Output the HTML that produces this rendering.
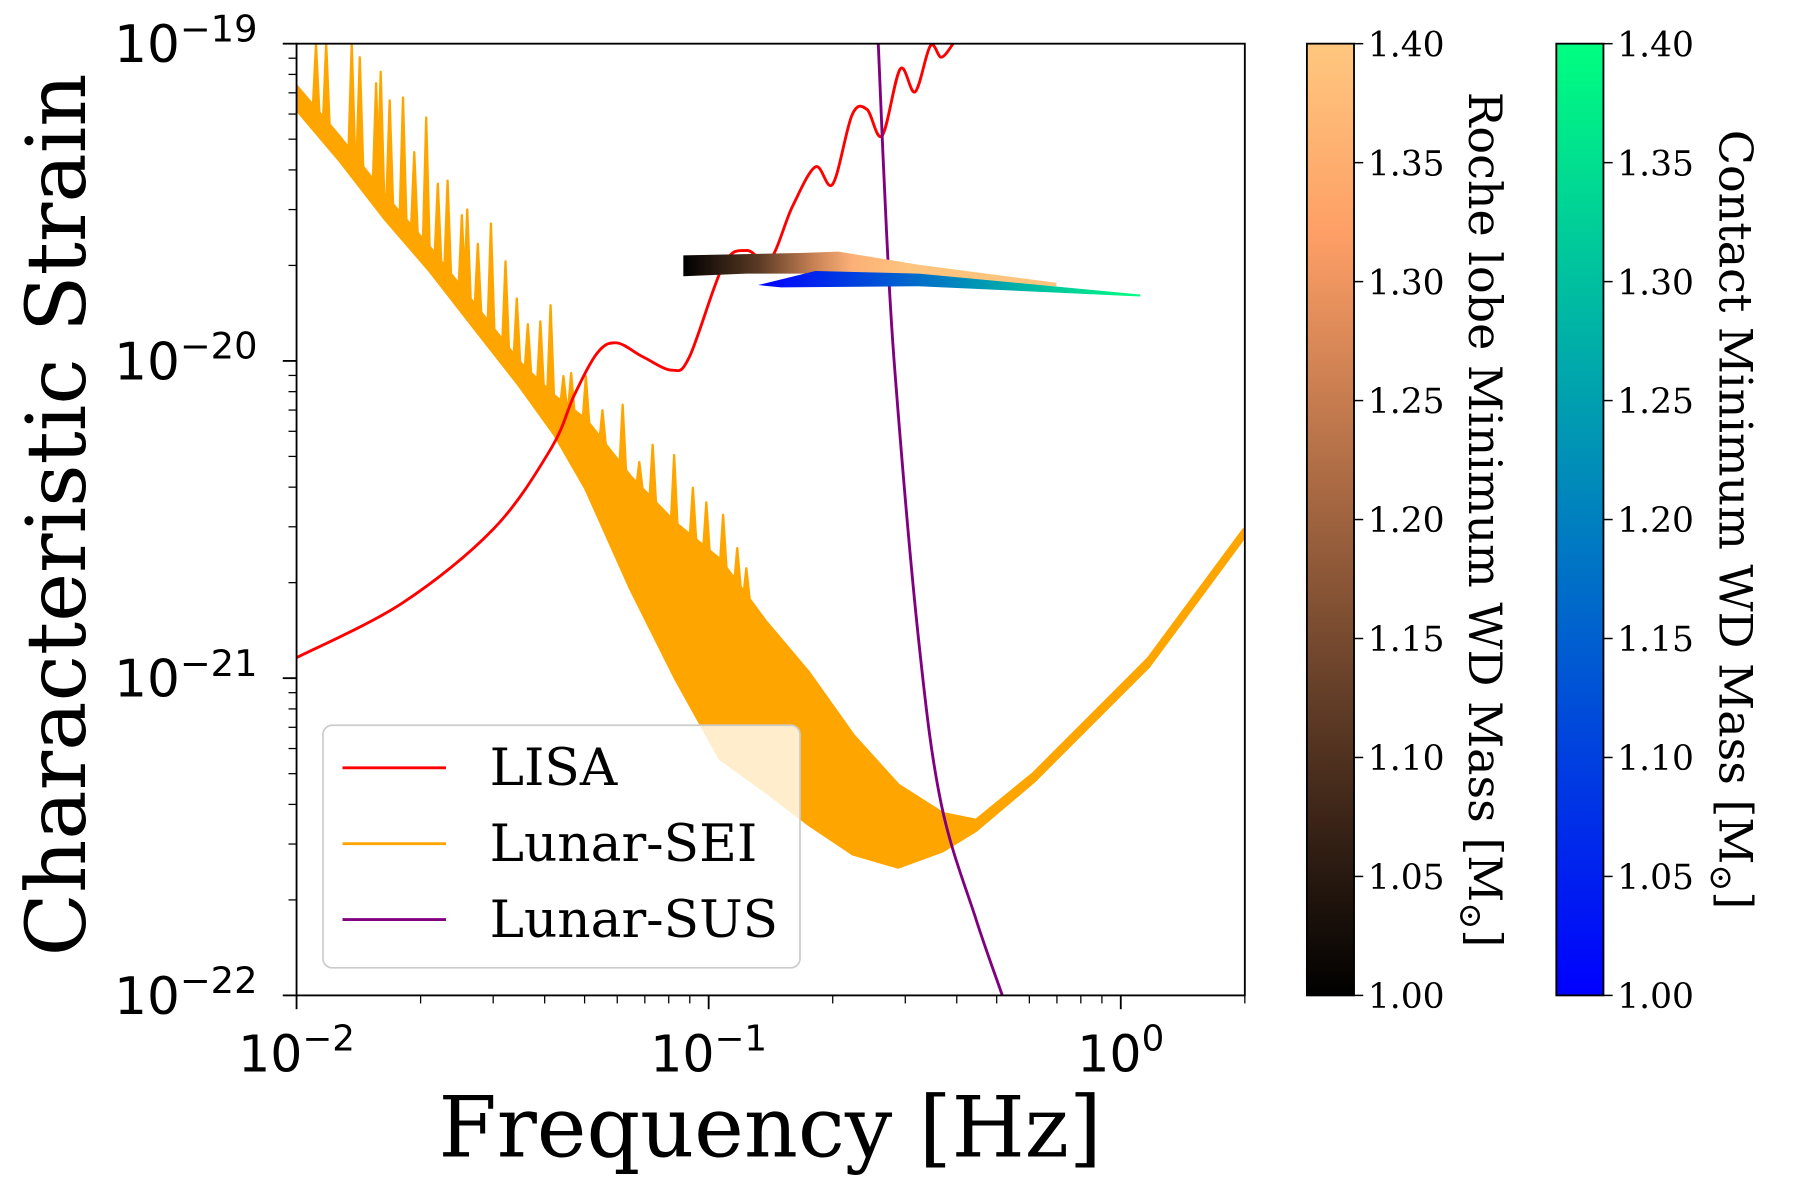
<!DOCTYPE html>
<html><head><meta charset="utf-8"><style>
html,body{margin:0;padding:0;background:#fff;width:1800px;height:1200px;overflow:hidden}
svg{display:block}
.sans{font-family:"DejaVu Sans","Liberation Sans",sans-serif}
.serif{font-family:"DejaVu Serif","Liberation Serif",serif}
</style></head><body>
<svg id="chart" width="1800" height="1200" viewBox="0 0 1566 1044" xmlns="http://www.w3.org/2000/svg">
<defs>
<linearGradient id="copperV" x1="0" y1="1" x2="0" y2="0">
<stop offset="0" stop-color="#000000"/><stop offset="0.5" stop-color="#9f633f"/><stop offset="0.8" stop-color="#fe9f66"/><stop offset="1" stop-color="#ffc77f"/>
</linearGradient>
<linearGradient id="winterV" x1="0" y1="1" x2="0" y2="0">
<stop offset="0" stop-color="#0000ff"/><stop offset="0.5" stop-color="#0080bf"/><stop offset="1" stop-color="#00ff80"/>
</linearGradient>
<linearGradient id="copperH" gradientUnits="userSpaceOnUse" x1="595" y1="0" x2="920" y2="0">
<stop offset="0" stop-color="#000000"/><stop offset="0.2" stop-color="#5a3a25"/><stop offset="0.35" stop-color="#c98355"/><stop offset="0.45" stop-color="#fbb077"/><stop offset="0.6" stop-color="#ffc47e"/><stop offset="1" stop-color="#fcc47e"/>
</linearGradient>
<linearGradient id="winterH" gradientUnits="userSpaceOnUse" x1="660" y1="0" x2="993" y2="0">
<stop offset="0" stop-color="#0000ff"/><stop offset="0.25" stop-color="#0040df"/><stop offset="0.55" stop-color="#0090b8"/><stop offset="0.8" stop-color="#00d098"/><stop offset="1" stop-color="#00ff80"/>
</linearGradient>
<clipPath id="axclip"><rect x="258" y="38" width="825" height="828"/></clipPath>
</defs>
<g id="plot" clip-path="url(#axclip)"></g>
<g id="fg"></g>
</svg>
<script>
// ---- data ----
const lisaFreq = [0.01,0.018,0.0301,0.0415,0.0472,0.0537,0.0598,0.0693,0.0815,0.0898,0.1087,0.1236,0.1406,0.1596,0.1816,0.2,0.2228,0.2421,0.2636,0.2917,0.317,0.345,0.367,0.392];
const lisaStrain = [1.16e-21,1.72e-21,2.96e-21,5.31e-21,7.8e-21,1.06e-20,1.14e-20,1.03e-20,9.35e-21,1.03e-20,2.01e-20,2.23e-20,2.08e-20,3.06e-20,4.09e-20,3.61e-20,5.96e-20,6.21e-20,5.13e-20,8.32e-20,7.05e-20,9.84e-20,9.06e-20,1e-19];
const susFreq = [0.258,0.270,0.284,0.324,0.367,0.446,0.516];
const susStrain = [1e-19,2.59e-20,8.75e-21,1.28e-21,3.99e-22,1.73e-22,1e-22];
const seiFreq = [0.01,0.01276,0.01639,0.02103,0.02702,0.0347,0.04233,0.05035,0.06465,0.08302,0.1066,0.1369,0.1747,0.2244,0.2882,0.3701,0.4457,0.6138,1.167,1.986];
const seiLow = [6.21e-20,4.27e-20,2.81e-20,1.93e-20,1.27e-20,8.39e-21,5.86e-21,3.96e-21,1.917e-21,1.0e-21,5.58e-22,4.42e-22,3.47e-22,2.79e-22,2.54e-22,2.86e-22,3.32e-22,4.72e-22,1.087e-21,2.77e-21];
const seiHigh = [7.34e-20,5.05e-20,3.32e-20,2.28e-20,1.505e-20,9.92e-21,7.72e-21,6.53e-21,4.31e-21,3.08e-21,2.36e-21,1.518e-21,1.042e-21,6.59e-22,4.60e-22,3.74e-22,3.56e-22,5.0e-22,1.152e-21,2.93e-21];
const seiSpikeFreq = [0.01115,0.0118,0.01361,0.01424,0.0156,0.016,0.01682,0.01812,0.0193,0.02063,0.02202,0.02326,0.02518,0.02595,0.02754,0.02962,0.03215,0.03422,0.03641,0.03905,0.04134,0.04444,0.04638,0.05034,0.05522,0.06186,0.06788,0.07311,0.08245,0.09154,0.09867,0.1084,0.1173,0.1234];
const seiSpikeStrain = [1e-19,1e-19,1e-19,9.06e-20,7.5e-20,8.16e-20,6.62e-20,6.76e-20,4.55e-20,5.85e-20,3.62e-20,3.70e-20,2.88e-20,3.0e-20,2.34e-20,2.71e-20,2.06e-20,1.573e-20,1.305e-20,1.332e-20,1.497e-20,8.96e-21,9.15e-21,8.96e-21,6.99e-21,7.28e-21,4.80e-21,5.44e-21,5.05e-21,3.98e-21,3.58e-21,3.27e-21,2.57e-21,2.22e-21];
const rocheFreq = [0.0868,0.1702,0.2064,0.3233,0.6982,0.6982,0.3233,0.2064,0.1236,0.0868];
const rocheStrain = [2.15e-20,2.19e-20,2.21e-20,2.01e-20,1.764e-20,1.72e-20,1.81e-20,1.886e-20,1.886e-20,1.85e-20];
const contactFreq = [0.1318,0.1816,0.3233,1.115,1.115,0.3233,0.1498,0.1318];
const contactStrain = [1.734e-20,1.92e-20,1.886e-20,1.62e-20,1.595e-20,1.72e-20,1.706e-20,1.734e-20];
const xTickExp = [-2,-1,0];
const yTickExp = [-19,-20,-21,-22];
const cbTicks = ["1.00","1.05","1.10","1.15","1.20","1.25","1.30","1.35","1.40"];

// ---- axes ----
const X0=258,X1=1083,Y0=38,Y1=866;
const xmin=-2,xmax=Math.log10(2),ymin=-22,ymax=-19;
function xs(f){return X0+(Math.log10(f)-xmin)/(xmax-xmin)*(X1-X0);}
function ys(h){return Y1-(Math.log10(h)-ymin)/(ymax-ymin)*(Y1-Y0);}
const NS="http://www.w3.org/2000/svg";
function mk(tag,attrs,parent){const e=document.createElementNS(NS,tag);for(const k in attrs)e.setAttribute(k,attrs[k]);parent.appendChild(e);return e;}
const plot=document.getElementById('plot'), fg=document.getElementById('fg');
function pts(fa,ha){return fa.map((f,i)=>xs(f).toFixed(1)+','+ys(ha[i]).toFixed(1)).join(' ');}
function smoothPath(fa,ha){
  const p=fa.map((f,i)=>[xs(f),ys(ha[i])]);
  let d='M'+p[0][0].toFixed(1)+','+p[0][1].toFixed(1);
  for(let i=0;i<p.length-1;i++){
    const p0=p[Math.max(0,i-1)],p1=p[i],p2=p[i+1],p3=p[Math.min(p.length-1,i+2)];
    const c1=[p1[0]+(p2[0]-p0[0])/6,p1[1]+(p2[1]-p0[1])/6];
    const c2=[p2[0]-(p3[0]-p1[0])/6,p2[1]-(p3[1]-p1[1])/6];
    d+=' C'+c1.map(v=>v.toFixed(1)).join(',')+' '+c2.map(v=>v.toFixed(1)).join(',')+' '+p2[0].toFixed(1)+','+p2[1].toFixed(1);
  }
  return d;
}
function highAt(f){
  for(let i=0;i<seiFreq.length-1;i++){
    if(f>=seiFreq[i]&&f<=seiFreq[i+1]){
      const t=(Math.log10(f)-Math.log10(seiFreq[i]))/(Math.log10(seiFreq[i+1])-Math.log10(seiFreq[i]));
      return ys(seiHigh[i])+t*(ys(seiHigh[i+1])-ys(seiHigh[i]));
    }
  }
  return ys(seiHigh[0]);
}

// SEI band
const sei=mk('g',{},plot);


mk('polygon',{points:pts(seiFreq,seiHigh)+' '+pts(seiFreq.slice().reverse(),seiLow.slice().reverse()),fill:'#ffa500',stroke:'#ffa500','stroke-width':3,'stroke-linejoin':'round'},sei);
seiSpikeFreq.forEach((f,i)=>{
  const x=xs(f),b=highAt(f)+4,t=ys(seiSpikeStrain[i]);
  const s=mk('polygon',{points:(x-3).toFixed(1)+','+b.toFixed(1)+' '+x.toFixed(1)+','+t.toFixed(1)+' '+(x+3).toFixed(1)+','+b.toFixed(1),fill:'#ffa500',stroke:'#ffa500','stroke-width':2,'stroke-linejoin':'round'},sei);
  
  
});
// LISA
const lisa=mk('path',{d:smoothPath(lisaFreq,lisaStrain),fill:'none',stroke:'#ff0000','stroke-width':2.5,'stroke-linejoin':'round'},plot);


// SUS
const sus=mk('path',{d:smoothPath(susFreq,susStrain),fill:'none',stroke:'#800080','stroke-width':2.5,'stroke-linejoin':'round'},plot);


// tracks
const roche=mk('polygon',{points:pts(rocheFreq,rocheStrain),fill:'url(#copperH)'},plot);


const contact=mk('polygon',{points:pts(contactFreq,contactStrain),fill:'url(#winterH)'},plot);



// axes frame
const frame=mk('rect',{x:X0,y:Y0,width:X1-X0,height:Y1-Y0,fill:'none',stroke:'#000','stroke-width':1.6},fg);



// x ticks
for(let e=-2;e<=0;e++){
  for(let m=1;m<=9;m++){
    const v=m*Math.pow(10,e); if(v>2.0001) break;
    const x=xs(v); const L=m===1?12:7;
    mk('line',{x1:x,y1:Y1,x2:x,y2:Y1+L,stroke:'#000','stroke-width':m===1?1.6:1.1},fg);
  }
}
xTickExp.forEach(e=>{
  const t=mk('text',{x:xs(Math.pow(10,e)),y:Y1+66,'text-anchor':'middle','font-size':44,class:'sans'},fg);
  
  
  t.innerHTML='10<tspan dy="-18" font-size="31">'+(e<0?'\u2212'+(-e):e)+'</tspan>';
});
// y ticks
for(let e=-22;e<-19;e++){
  for(let m=2;m<=9;m++){const y=ys(m*Math.pow(10,e));mk('line',{x1:X0,y1:y,x2:X0-7,y2:y,stroke:'#000','stroke-width':1.1},fg);}
}
yTickExp.forEach(e=>{
  const y=ys(Math.pow(10,e));
  mk('line',{x1:X0,y1:y,x2:X0-12,y2:y,stroke:'#000','stroke-width':1.6},fg);
  const t=mk('text',{x:X0-34,y:y+16,'text-anchor':'end','font-size':45,class:'sans'},fg);
  
  
  t.innerHTML='10<tspan dy="-18" font-size="32">\u2212'+(-e)+'</tspan>';
});
// axis titles
const xl=mk('text',{x:670,y:1006,'text-anchor':'middle','font-size':73,class:'serif'},fg);


xl.textContent='Frequency [Hz]';
const yl=mk('text',{x:0,y:0,'text-anchor':'middle','font-size':72,class:'serif',transform:'translate(74,448) rotate(-90)'},fg);


yl.textContent='Characteristic Strain';

// legend
const lg=mk('g',{},fg);


mk('rect',{x:281,y:631,width:415,height:211,rx:8,fill:'#fff','fill-opacity':0.8,stroke:'#cccccc','stroke-width':1.5},lg);
[['LISA','#ff0000',668],['Lunar-SEI','#ffa500',734],['Lunar-SUS','#800080',800]].forEach(r=>{
  const g=mk('g',{},lg);
  
  
  mk('line',{x1:298,y1:r[2],x2:388,y2:r[2],stroke:r[1],'stroke-width':2.5},g);
  const t=mk('text',{x:426,y:r[2]+15,'font-size':45,class:'serif'},g);
  t.textContent=r[0];
});

// colorbars
function colorbar(x,grad,label,lx,name){
  const g=mk('g',{},fg);
  
  
  mk('rect',{x:x,y:Y0,width:41,height:Y1-Y0,fill:'url(#'+grad+')',stroke:'#000','stroke-width':1.6},g);
  cbTicks.forEach((s,i)=>{
    const y=Y1-i*(Y1-Y0)/(cbTicks.length-1);
    mk('line',{x1:x+41,y1:y,x2:x+49,y2:y,stroke:'#000','stroke-width':1.3},g);
    const t=mk('text',{x:x+53,y:y+11,'font-size':30,class:'serif'},g);
    t.textContent=s;
  });
  const t=mk('text',{x:0,y:0,'text-anchor':'middle','font-size':40,class:'serif',transform:'translate('+lx+',452) rotate(90)'},g);
  t.innerHTML=label+' [M<tspan dy="8" font-size="28">\u2299</tspan><tspan dy="-8">]</tspan>';
}
colorbar(1137,'copperV','Roche lobe Minimum WD Mass',1278,'roche-colorbar');
colorbar(1354,'winterV','Contact Minimum WD Mass',1496,'contact-colorbar');
</script>
</body></html>
